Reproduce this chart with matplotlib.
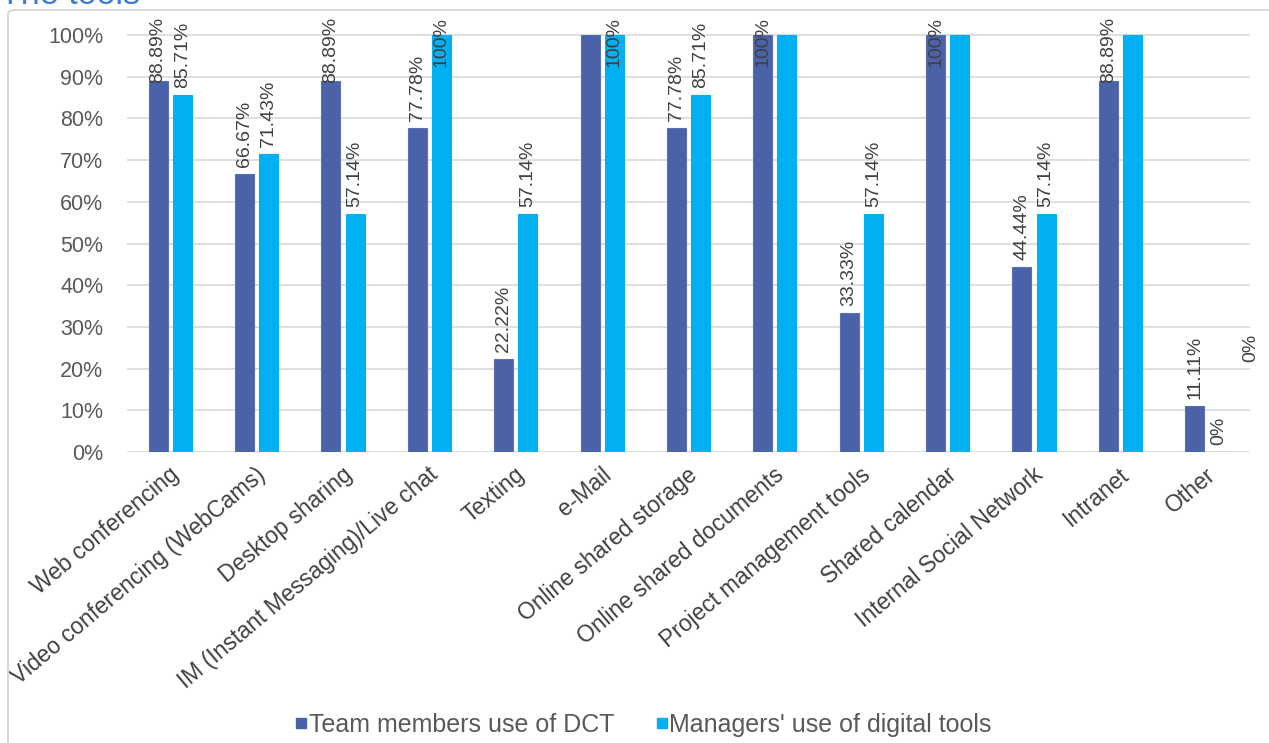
import matplotlib
matplotlib.use("Agg")
import matplotlib.pyplot as plt
from matplotlib.lines import Line2D
from matplotlib.patches import FancyBboxPatch

# ---- data -------------------------------------------------------------
categories = [
    "Web conferencing",
    "Video conferencing (WebCams)",
    "Desktop sharing",
    "IM (Instant Messaging)/Live chat",
    "Texting",
    "e-Mail",
    "Online shared storage",
    "Online shared documents",
    "Project management tools",
    "Shared calendar",
    "Internal Social Network",
    "Intranet",
    "Other",
]
team_members = [88.89, 66.67, 88.89, 77.78, 22.22, 100, 77.78, 100, 33.33, 100, 44.44, 88.89, 11.11]
managers = [85.71, 71.43, 57.14, 100, 57.14, 100, 85.71, 100, 57.14, 100, 57.14, 100, 0]
team_label_shown = [True, True, True, True, True, False, True, True, True, True, True, True, True]
manager_label_shown = [True, True, True, True, True, True, True, False, True, False, True, False, True]
y_ticks = [0, 10, 20, 30, 40, 50, 60, 70, 80, 90, 100]
series_names = ["Team members use of DCT", "Managers' use of digital tools"]
title = "The tools"

# ---- style ------------------------------------------------------------
W, H = 1269, 743
DARK = "#4A62A8"
LIGHT = "#00B0F0"
GRID = "#D9D9D9"
TEXT = "#404040"
plt.rcParams["font.family"] = ["Liberation Sans", "DejaVu Sans"]

fig = plt.figure(figsize=(W / 100, H / 100), dpi=100)

# chart frame
frame = FancyBboxPatch((8 / W, -0.05), 1.2, 1 - 10 / H + 0.05,
                       boxstyle="round,pad=0,rounding_size=0.006",
                       transform=fig.transFigure, facecolor="none",
                       edgecolor=GRID, lw=1.5, zorder=0)
fig.patches.append(frame)

fig.text(0 / W, 1 - 4 / H, title, color="#3A7DD0", fontsize=24.5,
         ha="left", va="baseline")

ax = fig.add_axes([127 / W, 1 - 452 / H, (1250 - 127) / W, (452 - 13) / H])
ax.set_xlim(-0.5, len(categories) - 0.5)
ax.set_ylim(0, 105.3)

offset = 0.14
width = 0.22
xs = list(range(len(categories)))
ax.bar([x - offset for x in xs], team_members, width=width, color=DARK,
       edgecolor="#5A72B5", linewidth=0.8, zorder=3, label=series_names[0])
ax.bar([x + offset for x in xs], managers, width=width, color=LIGHT,
       edgecolor=LIGHT, linewidth=0.8, zorder=3, label=series_names[1])

ax.set_yticks(y_ticks)
ax.set_yticklabels([f"{v}%" for v in y_ticks], color="#595959", fontsize=15.5)
ax.tick_params(axis="y", length=0, pad=17)
ax.set_xticks(xs)
ax.set_xticklabels([])
ax.tick_params(axis="x", length=0)
ax.yaxis.grid(True, color=GRID, lw=1.2)
ax.set_axisbelow(True)
for s in ax.spines.values():
    s.set_visible(False)

# category labels, slanted
for x, name in zip(xs, categories):
    ax.annotate(name, xy=(x, 0), xycoords=("data", "axes fraction"),
                xytext=(6, -20), textcoords="offset pixels",
                rotation=40, rotation_mode="anchor", ha="right", va="center",
                fontsize=16.5, color=TEXT)

# value labels
def fmt(v):
    return f"{v:g}%"

labels = []
for vals, shown, dx in ((team_members, team_label_shown, -offset),
                        (managers, manager_label_shown, offset)):
    for x, v, s in zip(xs, vals, shown):
        if not s:
            continue
        t = ax.annotate(fmt(v), xy=(x + dx, v), xytext=(0, 7),
                        textcoords="offset pixels", rotation=90,
                        ha="center", va="bottom", fontsize=14, color=TEXT,
                        zorder=4)
        labels.append((t, x + dx))

# keep value labels inside the plot area
fig.canvas.draw()
renderer = fig.canvas.get_renderer()
top_px = H - 17
for t, xpos in labels:
    bb = t.get_window_extent(renderer)
    if bb.y1 > top_px:
        t.set_va("top")
        t.xy = (xpos, ax.transData.inverted().transform((0, top_px))[1])
        t.set_position((0, 0))

fig.text(1251 / W, 1 - 348 / H, "0%", rotation=90, ha="center", va="center",
         fontsize=14, color=TEXT)

handles = [Line2D([], [], marker="s", ls="", color=DARK, markersize=7),
           Line2D([], [], marker="s", ls="", color=LIGHT, markersize=7)]
fig.legend(handles, series_names, loc="center", bbox_to_anchor=(644 / W, 1 - 725 / H),
           ncol=2, frameon=False, fontsize=18, labelcolor="#595959",
           handlelength=0.4, handletextpad=0.1, columnspacing=1.7,
           borderaxespad=0, borderpad=0)

fig.savefig("out.png", dpi=100)
